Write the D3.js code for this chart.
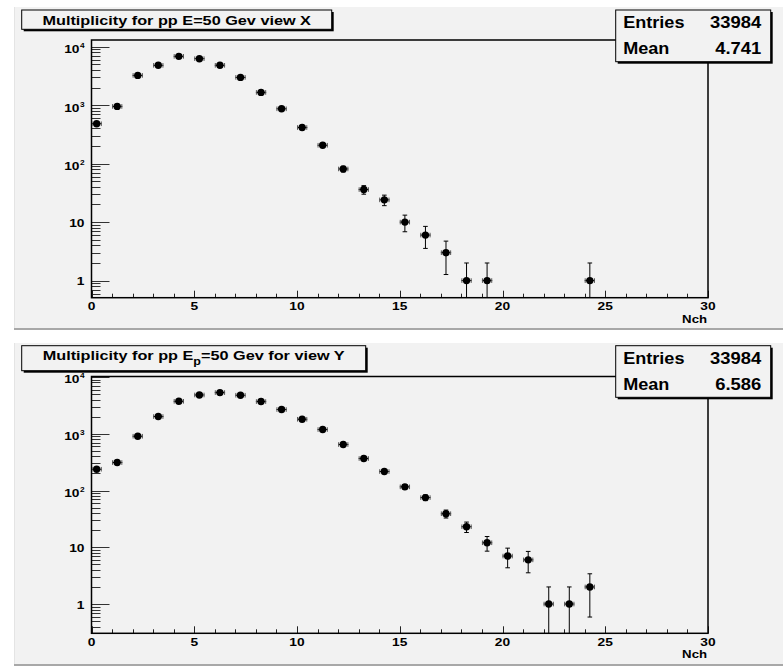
<!DOCTYPE html>
<html><head><meta charset="utf-8">
<script src="https://cdn.jsdelivr.net/npm/d3@7"></script>
<style>
body{margin:0;background:#fff}
svg{display:block}
text{font-family:"Liberation Sans",Arial,Helvetica,sans-serif;font-weight:bold;fill:#000}
</style>
</head><body>
<svg id="c" width="783" height="668"></svg>
<script>
// ---- data ----
const bins = [0,1,2,3,4,5,6,7,8,9,10,11,12,13,14,15,16,17,18,19,20,21,22,23,24];
const countsX = [480,950,3220,4790,6820,6220,4790,2980,1650,865,414,206,81,36,24,10,6,3,1,1,0,0,0,0,1];
const errorsX = [21.9,30.8,56.7,69.2,82.6,78.9,69.2,54.6,40.6,29.4,20.3,14.4,9.0,6.0,4.9,3.16,2.45,1.73,1,1,0,0,0,0,1];
const countsY = [237,311,904,2010,3730,4820,5310,4770,3690,2670,1800,1186,646,366,216,116,75,39,23,12,7,6,1,1,2];
const errorsY = [15.4,17.6,30.1,44.8,61.1,69.4,72.9,69.1,60.7,51.7,42.4,34.4,25.4,19.1,14.7,10.8,8.66,6.24,4.8,3.46,2.65,2.45,1,1,1.41];
const xTickLabels = [0,5,10,15,20,25,30];
const yMajorTicks = [1,10,100,1000,10000];
const titleX = ["Multiplicity for pp E=50 Gev view X"];
const titleY = ["Multiplicity for pp E", "p", "=50 Gev for view Y"];
const statLabels = ["Entries","Mean"];
const entriesX = "33984", meanX = "4.741";
const entriesY = "33984", meanY = "6.586";
const xAxisTitle = "Nch";

// ---- layout ----
const svg = d3.select("#c");
const PADFILL = "#f2f2f2";

function stext(parent, x, y, str, size, anchor, sx){
  return parent.append("text")
    .attr("transform", `translate(${x},${y}) scale(${sx},1)`)
    .attr("font-size", size).attr("text-anchor", anchor).text(str);
}

function drawPanel(cfg){
  const g = svg.append("g");
  // pad
  g.append("rect").attr("x",cfg.padX).attr("y",cfg.padTop).attr("width",783-cfg.padX+5).attr("height",cfg.padBottom-cfg.padTop)
    .attr("fill",PADFILL);
  g.append("line").attr("x1",cfg.padX).attr("x2",783).attr("y1",cfg.padBottom-1).attr("y2",cfg.padBottom-1)
    .attr("stroke","#a8a8a8").attr("stroke-width",2);
  g.append("line").attr("x1",cfg.padX+0.5).attr("x2",cfg.padX+0.5).attr("y1",cfg.padTop).attr("y2",cfg.padBottom-2)
    .attr("stroke","#e4e4e4").attr("stroke-width",1);

  const x = d3.scaleLinear().domain([0,30]).range([cfg.left, cfg.right]);
  const y = d3.scaleLog().domain(cfg.yDomain).range([cfg.bottom, cfg.top]);

  const clipId = "clip"+cfg.id;
  g.append("clipPath").attr("id",clipId).append("rect")
    .attr("x",cfg.left).attr("y",cfg.top).attr("width",cfg.right-cfg.left).attr("height",cfg.bottom-cfg.top);

  // y ticks (inside, pointing right)
  const [ymin,ymax] = cfg.yDomain;
  const minor = [];
  for(let e=-1;e<=4;e++){
    for(let m=2;m<=9;m++){
      const v = m*Math.pow(10,e);
      if(v>ymin && v<ymax) minor.push(v);
    }
  }
  g.selectAll(null).data(minor).enter().append("line")
    .attr("x1",cfg.left).attr("x2",cfg.left+9)
    .attr("y1",d=>Math.round(y(d))+0.5).attr("y2",d=>Math.round(y(d))+0.5)
    .attr("stroke","#333").attr("stroke-width",1);
  g.selectAll(null).data(yMajorTicks).enter().append("line")
    .attr("x1",cfg.left).attr("x2",cfg.left+18)
    .attr("y1",d=>Math.round(y(d))+0.5).attr("y2",d=>Math.round(y(d))+0.5)
    .attr("stroke","#333").attr("stroke-width",1);
  yMajorTicks.forEach(v=>{
    const yy = y(v);
    if(v>=100){
      const ex = Math.round(Math.log10(v));
      stext(g, cfg.left-12, yy+6.5, "10", 11, "end", 1.25);
      stext(g, cfg.left-11.5, yy+1.5, String(ex), 7.5, "start", 1.1);
    } else {
      stext(g, cfg.left-7, yy+4.5, String(v), 11, "end", 1.25);
    }
  });

  // x ticks (inside, pointing up)
  const xMinor = d3.range(0,31,1);
  g.selectAll(null).data(xMinor).enter().append("line")
    .attr("x1",d=>Math.round(x(d))+0.5).attr("x2",d=>Math.round(x(d))+0.5)
    .attr("y1",cfg.bottom).attr("y2",d=> d%5===0 ? cfg.bottom-7 : cfg.bottom-4)
    .attr("stroke","#222").attr("stroke-width",1);
  xTickLabels.forEach(v=>{
    stext(g, x(v), cfg.bottom+12.5, String(v), 11, "middle", 1.25);
  });
  stext(g, cfg.right-1, cfg.bottom+25, xAxisTitle, 11, "end", 1.2);

  // data
  const data = bins.map((b,i)=>({lo:b, c:cfg.counts[i], e:cfg.errors[i]})).filter(d=>d.c>0);
  const dg = g.append("g").attr("clip-path",`url(#${clipId})`);
  data.forEach(d=>{
    const cx = x(d.lo+0.25), cy = y(d.c);
    const yTop = y(d.c+d.e);
    const lowV = d.c-d.e;
    const yBot = lowV>0 ? y(lowV) : cfg.bottom+5;
    // vertical error
    dg.append("line").attr("x1",cx).attr("x2",cx).attr("y1",yTop).attr("y2",yBot).attr("stroke","#000").attr("stroke-width",1);
    dg.append("line").attr("x1",cx-2.3).attr("x2",cx+2.3).attr("y1",yTop).attr("y2",yTop).attr("stroke","#000").attr("stroke-width",1);
    if(lowV>0) dg.append("line").attr("x1",cx-2.3).attr("x2",cx+2.3).attr("y1",yBot).attr("y2",yBot).attr("stroke","#000").attr("stroke-width",1);
    // horizontal error
    const xl = x(d.lo), xr = x(d.lo+0.5);
    dg.append("line").attr("x1",xl).attr("x2",xr).attr("y1",cy).attr("y2",cy).attr("stroke","#000").attr("stroke-width",1);
    dg.append("line").attr("x1",xl+0.5).attr("x2",xl+0.5).attr("y1",cy-2.3).attr("y2",cy+2.3).attr("stroke","#555").attr("stroke-width",1);
    dg.append("line").attr("x1",xr-0.5).attr("x2",xr-0.5).attr("y1",cy-2.3).attr("y2",cy+2.3).attr("stroke","#555").attr("stroke-width",1);
    dg.append("circle").attr("cx",cx).attr("cy",cy).attr("r",3.7).attr("fill","#000");
  });

  // frame
  g.append("rect").attr("x",cfg.left).attr("y",cfg.top).attr("width",cfg.right-cfg.left).attr("height",cfg.bottom-cfg.top)
    .attr("fill","none").attr("stroke","#000").attr("stroke-width",1.5);

  // title box
  const tb = cfg.titleBox;
  g.append("rect").attr("x",tb.x+2).attr("y",tb.y+2).attr("width",tb.w).attr("height",tb.h).attr("fill","#000");
  g.append("rect").attr("x",tb.x).attr("y",tb.y).attr("width",tb.w).attr("height",tb.h).attr("fill",PADFILL).attr("stroke","#000").attr("stroke-width",1);
  const tt = g.append("text")
    .attr("transform",`translate(${tb.x+tb.w/2},${tb.y+14.5}) scale(1.25,1)`)
    .attr("font-size",13).attr("text-anchor","middle");
  cfg.title.forEach((part,i)=>{
    const ts = tt.append("tspan").text(part);
    if(cfg.title.length>1 && i===1){ ts.attr("font-size",10).attr("dy",4.5); }
    if(cfg.title.length>1 && i===2){ ts.attr("dy",-4.5); }
  });

  // stats box
  const sb = cfg.statBox;
  g.append("rect").attr("x",sb.x+2).attr("y",sb.y+2).attr("width",sb.w).attr("height",sb.h).attr("fill","#000");
  g.append("rect").attr("x",sb.x).attr("y",sb.y).attr("width",sb.w).attr("height",sb.h).attr("fill",PADFILL).attr("stroke","#000").attr("stroke-width",1);
  stext(g, sb.x+7.5, sb.y+18.3, statLabels[0], 16, "start", 1.13);
  stext(g, sb.x+7.5, sb.y+44.3, statLabels[1], 16, "start", 1.13);
  stext(g, sb.x+sb.w-9.5, sb.y+18.3, cfg.entries, 16, "end", 1.15);
  stext(g, sb.x+sb.w-9.5, sb.y+44.3, cfg.mean, 16, "end", 1.15);
}

drawPanel({id:"X", padX:14, padTop:7, padBottom:330, left:91.5, right:708, top:40, bottom:297.7,
  yDomain:[0.51,12980], counts:countsX, errors:errorsX, title:titleX,
  titleBox:{x:21.7,y:10,w:310,h:19.3}, statBox:{x:615.7,y:10,w:155,h:51.7},
  entries:entriesX, mean:meanX});
drawPanel({id:"Y", padX:14, padTop:343, padBottom:666, left:91.5, right:708, top:376.5, bottom:633.3,
  yDomain:[0.305,10200], counts:countsY, errors:errorsY, title:titleY,
  titleBox:{x:21.7,y:345.7,w:344,h:25}, statBox:{x:615.7,y:345.7,w:155,h:51.6},
  entries:entriesY, mean:meanY});
</script>
</body></html>
